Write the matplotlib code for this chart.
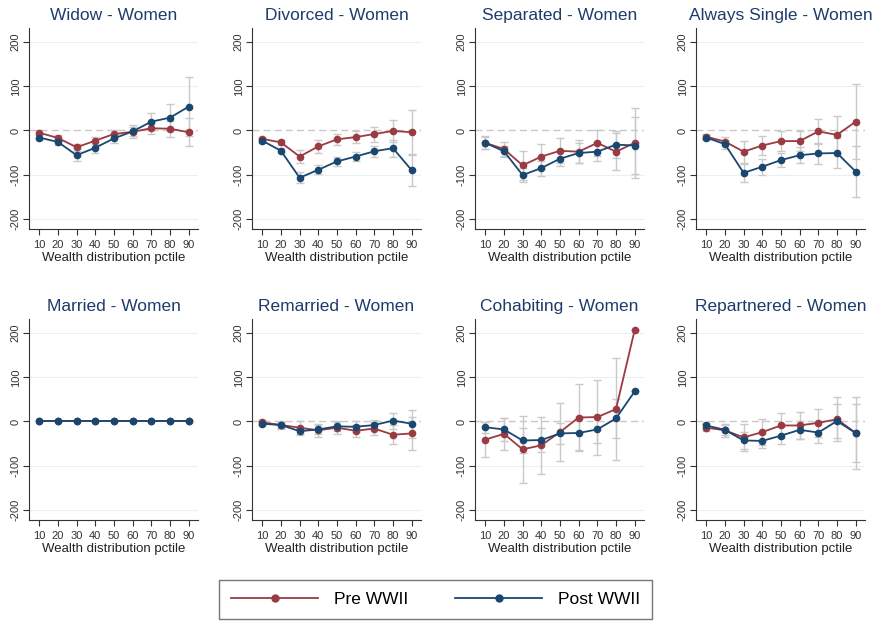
import numpy as np
import matplotlib
matplotlib.use("Agg")
import matplotlib.pyplot as plt

plt.rcParams["font.family"] = ["Liberation Sans", "DejaVu Sans"]
plt.rcParams["axes.unicode_minus"] = False

# percentiles of the wealth distribution
pctile = [10, 20, 30, 40, 50, 60, 70, 80, 90]

titles = ["Widow - Women", "Divorced - Women", "Separated - Women", "Always Single - Women",
          "Married - Women", "Remarried - Women", "Cohabiting - Women", "Repartnered - Women"]

# point estimates, Pre WWII cohort
widow_pre = [-5, -17, -38, -23, -8, -3, 5, 4, -4]
divorced_pre = [-19, -27, -59, -36, -20, -15, -8, -1, -4]
separated_pre = [-28, -42, -79, -59, -46, -48, -28, -48, -28]
single_pre = [-14, -25, -48, -34, -24, -24, -2, -10, 20]
married_pre = [0, 0, 0, 0, 0, 0, 0, 0, 0]
remarried_pre = [-2, -8, -14, -20, -14, -21, -16, -30, -27]
cohab_pre = [-41, -28, -63, -54, -24, 9, 10, 28, 207]
repart_pre = [-14, -20, -36, -24, -9, -9, -3, 5, -26]

# point estimates, Post WWII cohort
widow_post = [-16, -26, -56, -39, -18, -2, 20, 29, 54]
divorced_post = [-23, -46, -107, -89, -70, -59, -47, -40, -90]
separated_post = [-28, -47, -101, -85, -64, -51, -48, -32, -34]
single_post = [-16, -31, -96, -82, -67, -56, -52, -51, -93]
married_post = [0, 0, 0, 0, 0, 0, 0, 0, 0]
remarried_post = [-5, -8, -22, -18, -11, -12, -8, 2, -5]
cohab_post = [-13, -18, -43, -42, -27, -26, -18, 7, 68]
repart_post = [-9, -19, -43, -44, -32, -19, -25, 1, -26]

# half widths of the confidence intervals
widow_pre_ci = [5, 6, 8, 8, 9, 10, 12, 18, 32]
divorced_pre_ci = [4, 6, 14, 14, 12, 14, 17, 24, 50]
separated_pre_ci = [15, 15, 32, 28, 28, 26, 30, 42, 80]
single_pre_ci = [6, 10, 25, 22, 22, 22, 28, 42, 85]
married_pre_ci = [0, 0, 0, 0, 0, 0, 0, 0, 0]
remarried_pre_ci = [5, 8, 15, 15, 14, 13, 15, 22, 38]
cohab_pre_ci = [40, 36, 76, 64, 66, 75, 85, 115, 0]
repart_pre_ci = [8, 14, 30, 30, 28, 30, 32, 50, 82]

widow_post_ci = [5, 7, 14, 12, 10, 14, 20, 30, 66]
divorced_post_ci = [5, 6, 12, 10, 10, 10, 13, 19, 35]
separated_post_ci = [14, 12, 16, 17, 17, 22, 22, 30, 65]
single_post_ci = [6, 10, 20, 18, 16, 18, 24, 34, 58]
married_post_ci = [0, 0, 0, 0, 0, 0, 0, 0, 0]
remarried_post_ci = [4, 6, 8, 10, 10, 12, 12, 18, 32]
cohab_post_ci = [12, 27, 28, 28, 24, 38, 30, 45, 0]
repart_post_ci = [6, 12, 20, 15, 20, 20, 24, 38, 66]

pre_list = [widow_pre, divorced_pre, separated_pre, single_pre,
            married_pre, remarried_pre, cohab_pre, repart_pre]
post_list = [widow_post, divorced_post, separated_post, single_post,
             married_post, remarried_post, cohab_post, repart_post]
pre_ci_list = [widow_pre_ci, divorced_pre_ci, separated_pre_ci, single_pre_ci,
               married_pre_ci, remarried_pre_ci, cohab_pre_ci, repart_pre_ci]
post_ci_list = [widow_post_ci, divorced_post_ci, separated_post_ci, single_post_ci,
                married_post_ci, remarried_post_ci, cohab_post_ci, repart_post_ci]

red = "#9a3a42"
navy = "#1a476f"
gray = "#c9c9c9"

W, H = 875, 622
fig = plt.figure(figsize=(W / 100, H / 100), dpi=100)

lefts = [29, 252, 475, 696]
tops = [28, 319]
aw, ah = 169, 201

for i in range(8):
    row, col = divmod(i, 4)
    ax = fig.add_axes([lefts[col] / W, 1 - (tops[row] + ah) / H, aw / W, ah / H])

    # grid + zero line
    for g in [-200, -100, 100, 200]:
        ax.axhline(g, color="#e8f0f2", lw=0.8, zorder=0)
    if i != 4:
        ax.axhline(0, color="#c8c8c8", lw=1.0, ls=(0, (5, 3)), zorder=0.5)

    pre = np.array(pre_list[i])
    post = np.array(post_list[i])
    pre_ci = np.array(pre_ci_list[i])
    post_ci = np.array(post_ci_list[i])

    if pre_ci.any():
        ax.errorbar(pctile, pre, yerr=pre_ci, fmt="none", ecolor=gray,
                    elinewidth=1.0, capsize=3, capthick=1.0, zorder=1)
    if post_ci.any():
        ax.errorbar(pctile, post, yerr=post_ci, fmt="none", ecolor=gray,
                    elinewidth=1.0, capsize=3, capthick=1.0, zorder=1)

    ax.plot(pctile, pre, color=red, marker="o", ms=4.5, lw=1.3, zorder=3)
    ax.plot(pctile, post, color=navy, marker="o", ms=4.5, lw=1.3, zorder=4)

    ax.set_xlim(4.5, 95)
    ax.set_ylim(-223, 232)
    ax.set_xticks(pctile)
    ax.set_yticks([-200, -100, 0, 100, 200])
    ax.tick_params(axis="x", labelsize=8, length=4, colors="#333333", pad=4)
    ax.tick_params(axis="y", labelsize=8, length=4, colors="#333333", pad=2)
    for lab in ax.get_yticklabels():
        lab.set_rotation(90)
        lab.set_va("center")
    ax.spines["top"].set_visible(False)
    ax.spines["right"].set_visible(False)
    ax.spines["left"].set_color("#333333")
    ax.spines["bottom"].set_color("#333333")
    ax.set_xlabel("Wealth distribution pctile", fontsize=9.5, color="#222222", labelpad=1.5)
    ax.set_title(titles[i], fontsize=12.5, color="#1f3b6b", pad=6)

# legend
h1, = plt.plot([], [], color=red, marker="o", ms=5, lw=1.3)
h2, = plt.plot([], [], color=navy, marker="o", ms=5, lw=1.3)
leg = fig.legend([h1, h2], ["Pre WWII", "Post WWII"], loc="upper left",
                 bbox_to_anchor=(219 / W, 0, (652 - 219) / W, 1 - 580 / H),
                 mode="expand", ncol=2, fontsize=12.5, handlelength=5.0,
                 frameon=True, fancybox=False, edgecolor="#555555",
                 borderpad=0.7, borderaxespad=0, columnspacing=3, handletextpad=0.9)
leg.get_frame().set_linewidth(1.0)

fig.savefig("out.png", dpi=100)
